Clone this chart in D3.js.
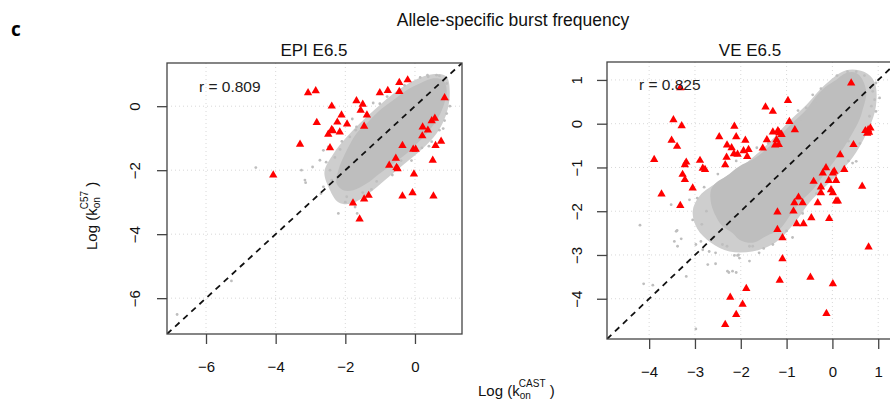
<!DOCTYPE html>
<html>
<head>
<meta charset="utf-8">
<script src="https://cdn.jsdelivr.net/npm/d3@7"></script>
<style>
  body { margin: 0; background: #fff; }
  svg { display: block; font-family: "Liberation Sans", Arial, sans-serif; }
</style>
</head>
<body>
<svg id="chart" width="890" height="406"></svg>
<script>
// values: [log kon CAST, log kon C57]
var epiRed = [
  [-3.07, 0.42], [-2.85, 0.48], [-2.39, 0.00], [-2.82, -0.51], [-3.30, -1.19], [-4.07, -2.15],
  [-2.11, -0.28], [-2.23, -0.50], [-1.95, -0.56], [-2.39, -0.73], [-2.36, -0.77], [-2.49, -0.88],
  [-2.16, -0.81], [-2.44, -1.30], [-1.68, 0.17], [-1.50, 0.06], [-1.56, -0.13], [-1.38, -0.28],
  [-1.46, -0.63], [-1.01, 0.42], [-0.78, 0.49], [-0.45, 0.74], [-0.21, 0.82], [-0.45, 0.46],
  [0.85, 0.26], [0.57, -0.38], [0.48, -0.46], [0.22, -0.65], [0.37, -0.75], [0.21, -0.93],
  [0.75, -1.10], [0.59, -1.23], [-0.36, -1.23], [-0.05, -1.35], [0.02, -1.35], [0.51, -1.69],
  [-0.55, -1.63], [-0.74, -1.85], [-0.53, -1.92], [-0.50, -1.96], [-0.03, -2.12], [-1.78, -3.03],
  [-1.46, -2.90], [-1.33, -2.79], [-1.59, -3.53], [-0.36, -2.81], [-0.07, -2.71], [0.53, -2.81]
];
// outline of the solid grey core, and of the thinner rim round it
var epiCloud = [
  [-2.20, -2.00], [-1.96, -1.38], [-1.68, -0.85], [-1.39, -0.54], [-1.01, -0.13], [-0.62, 0.19],
  [-0.24, 0.50], [0.14, 0.71], [0.53, 0.87], [0.81, 0.81], [0.91, 0.50], [0.81, -0.02],
  [0.62, -0.44], [0.34, -0.85], [0.05, -1.17], [-0.24, -1.48], [-0.62, -1.79], [-1.01, -2.10],
  [-1.39, -2.42], [-1.77, -2.63], [-2.06, -2.63], [-2.25, -2.42]
];
var epiHalo = [
  [-2.60, -2.05], [-2.35, -1.50], [-1.95, -0.95], [-1.55, -0.50], [-1.05, 0.00], [-0.55, 0.45],
  [0.00, 0.82], [0.50, 1.00], [0.90, 0.93], [1.00, 0.45], [0.90, -0.25], [0.62, -0.85],
  [0.22, -1.32], [-0.30, -1.80], [-0.85, -2.30], [-1.35, -2.75], [-1.85, -3.05], [-2.20, -3.00],
  [-2.45, -2.60]
];
var epiGray = [
  [-4.57, -1.92], [-5.27, -5.46], [-6.83, -6.51], [-2.94, -1.90], [-3.14, -2.39], [-2.70, -2.73],
  [-2.20, -3.35], [-1.66, -3.35], [0.36, 0.97], [0.60, 0.76], [-3.26, -2.00], [-3.16, -2.31],
  [-2.63, -1.38], [-2.73, -1.69], [-2.49, -1.27], [-2.44, -2.00], [-2.63, -2.52], [-2.39, -2.31],
  [-1.96, -2.83], [-1.72, -3.15], [0.91, -0.23], [0.81, -0.70], [0.48, -1.11], [-1.01, 0.08],
  [-1.39, -0.23], [-1.68, -0.65], [-1.87, -0.96], [0.38, 0.92], [0.62, 0.97], [0.91, 0.71],
  [-2.30, -1.60], [-2.10, -1.10], [-1.80, -0.40], [-1.20, 0.10], [0.70, 0.95], [0.95, 0.20],
  [0.70, -0.75], [0.20, -1.30], [-0.40, -1.70], [-1.10, -2.35], [-1.50, -2.70], [-2.00, -3.00],
  [-0.80, 0.30], [-0.30, 0.65], [0.15, 0.90], [1.00, 0.00], [0.85, -0.45], [0.40, -1.25],
  [-0.10, -1.70], [-0.65, -2.15], [-1.25, -2.60], [-2.55, -1.75], [-2.15, -1.35], [-1.70, -0.75]
];
var veRed = [
  [0.41, 0.93], [-0.97, 0.53], [-3.32, 0.82], [-3.47, 0.09], [-3.29, -0.05], [-3.51, -0.38],
  [-3.39, -0.52], [-3.89, -0.82], [-3.19, -0.88], [-3.22, -0.94], [-3.27, -1.16], [-3.22, -1.28],
  [-3.73, -1.61], [-3.32, -1.87], [-3.05, -1.47], [-2.89, -0.84], [-2.83, -1.02], [-2.78, -1.05],
  [-2.47, -0.30], [-2.14, -0.06], [-2.10, -0.30], [-2.30, -0.49], [-2.20, -0.55], [-2.31, -0.77],
  [-2.15, -0.69], [-2.07, -0.70], [-2.34, -0.94], [-1.90, -0.38], [-1.94, -0.62], [-1.83, -0.59],
  [-1.86, -0.75], [-1.46, 0.38], [-1.30, 0.28], [-1.52, -0.56], [-1.43, -0.37], [-1.30, -0.19],
  [-1.25, -0.49], [-1.22, -0.37], [-1.19, -0.16], [-1.16, -0.21], [-1.11, -0.25], [-1.17, -0.48],
  [-0.94, 0.05], [-0.82, -0.14], [-1.20, -2.02], [-1.20, -2.42], [-1.09, -2.61], [-1.09, -3.09],
  [-1.15, -3.58], [-1.88, -3.77], [-2.23, -3.97], [-1.96, -4.13], [-2.10, -4.36], [-2.34, -4.59],
  [-0.48, -3.51], [0.01, -3.66], [-0.13, -4.34], [0.79, -2.82], [0.65, -1.43], [0.46, -0.48],
  [0.17, -0.71], [0.26, -1.05], [0.72, -0.16], [0.78, -0.14], [0.80, -0.20], [0.76, -0.22],
  [0.83, -0.10], [-0.14, -1.01], [-0.21, -1.13], [0.01, -1.13], [0.04, -1.09], [-0.41, -1.32],
  [-0.25, -1.45], [-0.08, -1.30], [0.08, -1.30], [-0.25, -1.58], [-0.03, -1.51], [0.01, -1.58],
  [0.12, -1.77], [0.08, -1.77], [-0.74, -1.68], [-0.83, -1.81], [-0.65, -1.81], [-0.32, -1.81],
  [-0.85, -2.00], [-0.78, -2.29], [-0.63, -2.29], [-0.46, -2.15], [-0.07, -2.17]
];
var veCloud = [
  [-2.65, -1.51], [-2.54, -1.35], [-2.32, -1.20], [-2.03, -0.97], [-1.74, -0.82], [-1.45, -0.59],
  [-1.16, -0.29], [-0.87, 0.02], [-0.57, 0.32], [-0.36, 0.62], [-0.14, 0.85], [0.08, 1.00],
  [0.30, 1.16], [0.52, 1.16], [0.66, 1.00], [0.74, 0.70], [0.66, 0.32], [0.59, 0.09],
  [0.44, -0.21], [0.22, -0.59], [0.01, -0.90], [-0.21, -1.20], [-0.43, -1.51], [-0.72, -1.81],
  [-0.94, -2.12], [-1.16, -2.42], [-1.45, -2.57], [-1.74, -2.72], [-2.03, -2.65], [-2.18, -2.50],
  [-2.40, -2.34], [-2.54, -2.12], [-2.65, -1.81]
];
var veHalo = [
  [-3.05, -2.00], [-2.90, -1.65], [-2.45, -1.30], [-1.95, -0.95], [-1.40, -0.45], [-0.95, 0.05],
  [-0.55, 0.45], [-0.15, 0.90], [0.30, 1.22], [0.70, 1.18], [0.92, 0.95], [0.95, 0.40],
  [0.80, -0.10], [0.52, -0.65], [0.22, -1.05], [-0.12, -1.40], [-0.50, -1.80], [-0.85, -2.30],
  [-1.25, -2.72], [-1.75, -2.92], [-2.25, -2.92], [-2.65, -2.72], [-2.95, -2.40]
];
var veGray = [
  [-4.20, -2.32], [-3.39, -2.44], [-3.30, -2.63], [-3.38, -2.80], [-3.12, -1.74], [-3.52, -1.85],
  [-2.98, -2.76], [-2.87, -2.69], [-2.72, -3.22], [-2.55, -3.20], [-3.19, -3.49], [-4.12, -3.66],
  [-3.92, -3.69], [-2.26, -3.40], [-2.10, -3.40], [-2.98, -4.69], [-2.14, -3.01], [-2.07, -3.01],
  [-2.40, -2.76], [-2.69, -2.92], [-3.41, -2.46], [-3.45, -2.69], [-2.83, -2.88], [-2.29, -3.37],
  [-2.18, -3.37], [-1.81, -3.14], [-2.03, -3.07], [0.33, 1.19], [0.52, 1.19], [0.95, 0.93],
  [0.92, 0.55], [0.81, 0.17], [0.88, 0.74], [0.95, 0.28], [1.03, 0.59], [0.52, -0.86],
  [0.44, -0.90], [-0.43, 0.66], [-0.36, 0.51], [-0.57, 0.36], [-1.81, -2.80], [-1.74, -2.80],
  [-1.30, -2.76], [-0.87, -2.60], [-1.19, -2.31], [-1.01, -2.08], [-2.80, -1.45], [-2.95, -1.70],
  [-2.75, -2.00], [-2.85, -2.30], [-2.60, -2.60], [-2.30, -2.80], [-1.50, -2.85], [-0.70, 0.10],
  [-1.00, -0.20], [-1.40, -0.45], [0.20, 1.05], [0.70, 1.10], [0.85, 0.40], [0.35, -0.40],
  [-2.50, -1.15], [-2.10, -0.85], [-1.65, -0.55], [-0.75, 0.30], [-0.25, 0.80], [0.10, 1.10],
  [0.60, -0.45], [0.35, -0.85], [-0.05, -1.25], [-0.35, -1.60], [-0.65, -2.05], [-1.00, -2.45],
  [-1.60, -2.95], [-2.05, -3.00], [-2.55, -2.95], [-3.05, -2.20]
];
var epiTicks = [-6, -4, -2, 0];
var veTicks = [-4, -3, -2, -1, 0, 1];

var panels = [
  { title: "EPI E6.5", r: "r = 0.809", red: epiRed, cloud: epiCloud, halo: epiHalo, gray: epiGray, ticks: epiTicks,
    domain: [-7.12, 1.35], left: 167, right: 462, top: 63, bottom: 334, ylab: 135, xlab: 367, rx: 199, ry: 92 },
  { title: "VE E6.5", r: "r = 0.825", red: veRed, cloud: veCloud, halo: veHalo, gray: veGray, ticks: veTicks,
    domain: [-4.92, 1.41], left: 607, right: 897, top: 62, bottom: 339, ylab: 577, xlab: 372, rx: 639, ry: 90 }
];

var svg = d3.select("#chart");
var fmt = d3.format("");

panels.forEach(function(p, i) {
  var x = d3.scaleLinear().domain(p.domain).range([p.left, p.right]);
  var y = d3.scaleLinear().domain(p.domain).range([p.bottom, p.top]);
  var outline = d3.line().x(d => x(d[0])).y(d => y(d[1])).curve(d3.curveCatmullRomClosed);

  svg.append("clipPath").attr("id", "clip" + i)
    .append("rect")
    .attr("x", p.left).attr("y", p.top)
    .attr("width", p.right - p.left).attr("height", p.bottom - p.top);

  var g = svg.append("g").attr("clip-path", "url(#clip" + i + ")");

  // dotted grid
  g.selectAll(".gx").data(p.ticks).enter().append("line")
    .attr("x1", d => x(d)).attr("x2", d => x(d))
    .attr("y1", p.top).attr("y2", p.bottom)
    .attr("stroke", "#d8d8d8").attr("stroke-dasharray", "1,3");
  g.selectAll(".gy").data(p.ticks).enter().append("line")
    .attr("y1", d => y(d)).attr("y2", d => y(d))
    .attr("x1", p.left).attr("x2", p.right)
    .attr("stroke", "#d8d8d8").attr("stroke-dasharray", "1,3");

  // grey cloud: thinner rim, then solid core
  g.append("path").datum(p.halo)
    .attr("d", outline)
    .attr("fill", "#cecece");
  g.append("path").datum(p.cloud)
    .attr("d", outline)
    .attr("fill", "#bebebe");

  g.selectAll(".gp").data(p.gray).enter().append("circle")
    .attr("cx", d => x(d[0])).attr("cy", d => y(d[1]))
    .attr("r", 1.4).attr("fill", "#bebebe");

  // y = x
  g.append("line")
    .attr("x1", x(p.domain[0])).attr("y1", y(p.domain[0]))
    .attr("x2", x(p.domain[1])).attr("y2", y(p.domain[1]))
    .attr("stroke", "#111").attr("stroke-width", 1.8)
    .attr("stroke-dasharray", "6,5");

  g.selectAll(".tri").data(p.red).enter().append("path")
    .attr("d", d3.symbol().type(d3.symbolTriangle).size(30))
    .attr("transform", d => "translate(" + x(d[0]) + "," + y(d[1]) + ")")
    .attr("fill", "#ff0000");

  // frame
  svg.append("rect")
    .attr("x", p.left).attr("y", p.top)
    .attr("width", p.right - p.left).attr("height", p.bottom - p.top)
    .attr("fill", "none").attr("stroke", "#444").attr("stroke-width", 1.3);

  // axes
  var ax = svg.append("g")
    .attr("transform", "translate(0," + p.bottom + ")")
    .call(d3.axisBottom(x).tickValues(p.ticks).tickSize(10).tickFormat(fmt));
  ax.select(".domain").remove();
  ax.selectAll("line").attr("stroke", "#444").attr("stroke-width", 1.3);
  ax.selectAll("text").attr("y", p.xlab - p.bottom).attr("dy", "0.35em")
    .attr("font-size", 15).attr("fill", "#111")
    .attr("font-family", "Liberation Sans, Arial, sans-serif");

  var ay = svg.append("g")
    .attr("transform", "translate(" + p.left + ",0)")
    .call(d3.axisLeft(y).tickValues(p.ticks).tickSize(10).tickFormat(fmt));
  ay.select(".domain").remove();
  ay.selectAll("line").attr("stroke", "#444").attr("stroke-width", 1.3);
  ay.selectAll("text")
    .attr("x", null)
    .attr("text-anchor", "middle")
    .attr("transform", "translate(" + (p.ylab - p.left) + ",0) rotate(-90)")
    .attr("dy", "0.35em")
    .attr("font-size", 15).attr("fill", "#111")
    .attr("font-family", "Liberation Sans, Arial, sans-serif");

  svg.append("text")
    .attr("x", i ? 750 : 314)
    .attr("y", 56)
    .attr("text-anchor", "middle")
    .attr("font-size", 17)
    .attr("fill", "#111")
    .text(p.title);

  svg.append("text")
    .attr("x", p.rx).attr("y", p.ry)
    .attr("font-size", 15.5)
    .attr("fill", "#222")
    .text(p.r);
});

svg.append("text")
  .attr("x", 513).attr("y", 26)
  .attr("text-anchor", "middle")
  .attr("font-size", 17.5)
  .attr("fill", "#111")
  .text("Allele-specific burst frequency");

svg.append("text")
  .attr("x", 11).attr("y", 36)
  .attr("font-size", 19)
  .attr("font-weight", "bold")
  .attr("font-family", "Open Sans, sans-serif")
  .text("c");

// axis titles
var xt = svg.append("text")
  .attr("x", 478).attr("y", 396)
  .attr("font-size", 15).attr("fill", "#111");
xt.append("tspan").text("Log (k");
xt.append("tspan").attr("font-size", 10).attr("dy", 3).text("on");
xt.append("tspan").attr("font-size", 10).attr("dx", -12).attr("dy", -12).text("CAST");
xt.append("tspan").attr("dy", 9).text(" )");

var yt = svg.append("text")
  .attr("transform", "translate(97,250) rotate(-90)")
  .attr("font-size", 15).attr("fill", "#111");
yt.append("tspan").text("Log (k");
yt.append("tspan").attr("font-size", 10).attr("dy", 3).text("on");
yt.append("tspan").attr("font-size", 10).attr("dx", -12).attr("dy", -12).text("C57");
yt.append("tspan").attr("dy", 9).text(" )");
</script>
</body>
</html>
